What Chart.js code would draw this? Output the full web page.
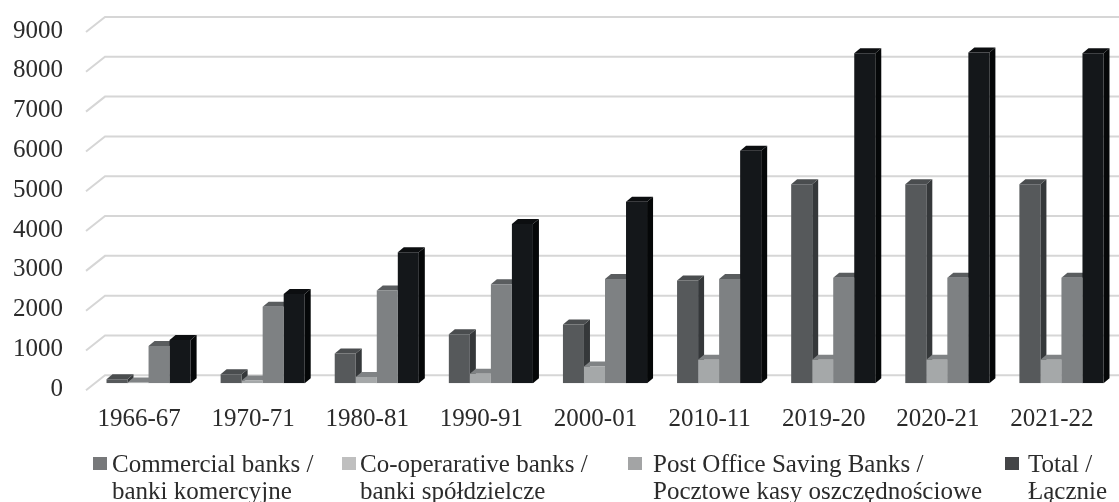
<!DOCTYPE html>
<html>
<head>
<meta charset="utf-8">
<script src="https://cdn.jsdelivr.net/npm/chart.js@4.4.1/dist/chart.umd.min.js"></script>
<style>
    body { margin: 0; background: #ffffff; }
    #wrap { position: relative; width: 1119px; height: 502px; overflow: hidden; }
    #bank-chart { position: absolute; left: 0; top: 0; }
    .legend-item { position: absolute; top: 450px; font-family: 'Liberation Serif', serif; font-size: 25px; line-height: 27px; color: #2b2b2b; white-space: nowrap; }
    .legend-box { position: absolute; top: 457px; width: 14px; height: 13px; }
</style>
</head>
<body>
<div id="wrap">
    <canvas id="bank-chart" width="1119" height="502"></canvas>
    <div id="legend"></div>
</div>
<script>
const years = ['1966-67', '1970-71', '1980-81', '1990-91', '2000-01', '2010-11', '2019-20', '2020-21', '2021-22'];
const commercialBanks = [100, 230, 750, 1230, 1480, 2580, 5000, 5000, 5000];
const cooperativeBanks = [20, 70, 160, 240, 420, 590, 590, 590, 590];
const postOfficeBanks = [940, 1920, 2330, 2490, 2620, 2620, 2650, 2650, 2650];
const totals = [1090, 2240, 3290, 4000, 4560, 5840, 8290, 8310, 8290];
const yTicks = [0, 1000, 2000, 3000, 4000, 5000, 6000, 7000, 8000, 9000];
const seriesNames = [
    ['Commercial banks /', 'banki komercyjne'],
    ['Co-operarative banks /', 'banki spółdzielcze'],
    ['Post Office Saving Banks /', 'Pocztowe kasy oszczędnościowe'],
    ['Total /', 'Łącznie']
];

const frontColors = ['#56595b', '#a5a8a9', '#7e8183', '#14171a'];
const topColors = ['#4a4d4f', '#808385', '#5a5d5f', '#0c0e10'];
const sideColors = ['#35383a', '#8c8f90', '#5e6163', '#050708'];
const legendColors = ['#77787a', '#bfbfbf', '#a3a4a5', '#444547'];
const legendPos = [[93, 112], [342, 360], [628, 653], [1005, 1028]];

const DX = 6, DY = 5;
const FONT = "'Liberation Serif', serif";

// fake 3D: back wall grid, floor diagonals, bar sides and tops
const depthPlugin = {
    id: 'depth3d',
    beforeDatasetsDraw(chart) {
        const ctx = chart.ctx;
        const yScale = chart.scales.y;
        ctx.save();
        ctx.strokeStyle = '#d6d6d6';
        ctx.lineWidth = 2;
        yScale.ticks.forEach(t => {
            const py = yScale.getPixelForValue(t.value);
            ctx.beginPath();
            ctx.moveTo(86, py + 7);
            ctx.lineTo(105, py - 8);
            ctx.lineTo(chart.width, py - 8);
            ctx.stroke();
        });

        const metas = chart.getSortedVisibleDatasetMetas();
        for (let i = 0; i < years.length; i++) {
            metas.forEach((meta, d) => {
                const bar = meta.data[i];
                const left = bar.x - bar.width / 2;
                const right = bar.x + bar.width / 2;
                ctx.fillStyle = sideColors[d];
                ctx.beginPath();
                ctx.moveTo(right, bar.y);
                ctx.lineTo(right + DX, bar.y - DY);
                ctx.lineTo(right + DX, bar.base - DY);
                ctx.lineTo(right, bar.base);
                ctx.closePath();
                ctx.fill();
                ctx.fillStyle = topColors[d];
                ctx.beginPath();
                ctx.moveTo(left, bar.y);
                ctx.lineTo(left + DX, bar.y - DY);
                ctx.lineTo(right + DX, bar.y - DY);
                ctx.lineTo(right, bar.y);
                ctx.closePath();
                ctx.fill();
            });
        }
        ctx.restore();
    }
};

function buildLegend() {
    const legend = document.getElementById('legend');
    seriesNames.forEach((name, i) => {
        const box = document.createElement('div');
        box.className = 'legend-box';
        box.style.left = legendPos[i][0] + 'px';
        box.style.background = legendColors[i];
        legend.appendChild(box);

        const item = document.createElement('div');
        item.className = 'legend-item';
        item.style.left = legendPos[i][1] + 'px';
        item.innerHTML = name[0] + '<br>' + name[1];
        legend.appendChild(item);
    });
}

function createBankChart() {
    const ctx = document.getElementById('bank-chart').getContext('2d');
    const series = [commercialBanks, cooperativeBanks, postOfficeBanks, totals];
    new Chart(ctx, {
        type: 'bar',
        data: {
            labels: years,
            datasets: series.map((values, i) => ({
                label: seriesNames[i].join(' '),
                data: values,
                backgroundColor: frontColors[i],
                borderWidth: 0,
                categoryPercentage: 0.737,
                barPercentage: 1.0
            }))
        },
        options: {
            responsive: false,
            animation: false,
            layout: { padding: { top: 25, right: 0.5, left: 0, bottom: 0 } },
            plugins: {
                legend: { display: false },
                tooltip: { enabled: false }
            },
            scales: {
                x: {
                    grid: { display: false, drawTicks: false },
                    border: { display: false },
                    ticks: {
                        color: '#2b2b2b',
                        font: { family: FONT, size: 25 },
                        padding: 21,
                        labelOffset: -9.5,
                        maxRotation: 0,
                        autoSkip: false
                    },
                    afterFit: scale => {
                        scale.height = 118.7;
                        scale.paddingLeft = 0;
                        scale.paddingRight = 0;
                    }
                },
                y: {
                    min: 0,
                    max: 9000,
                    grid: { display: false, drawTicks: false },
                    border: { display: false },
                    afterBuildTicks: scale => { scale.ticks = yTicks.map(v => ({ value: v })); },
                    ticks: {
                        color: '#2b2b2b',
                        font: { family: FONT, size: 25 },
                        padding: 28.5,
                        labelOffset: 6,
                        callback: value => String(value)
                    },
                    afterFit: scale => {
                        scale.width = 91.5;
                        scale.paddingTop = 0;
                        scale.paddingBottom = 0;
                    }
                }
            }
        },
        plugins: [depthPlugin]
    });
}

buildLegend();
createBankChart();
</script>
</body>
</html>
